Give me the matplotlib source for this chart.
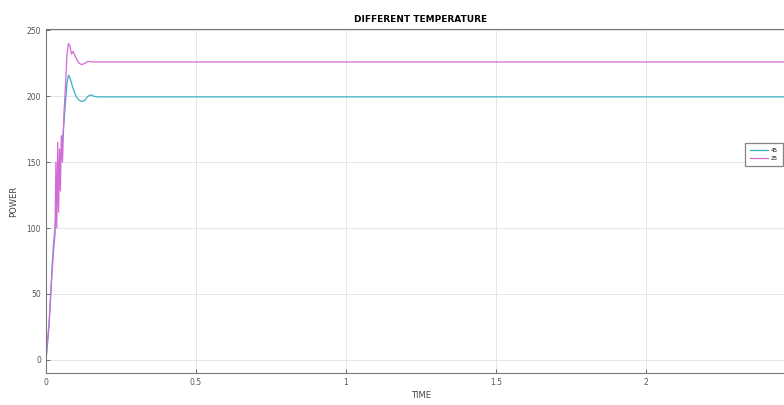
import matplotlib.pyplot as plt
import numpy as np

# power response at two temperatures
t_45 = [0, 0.005, 0.01, 0.015, 0.02, 0.025, 0.03, 0.035, 0.04, 0.045, 0.05,
        0.055, 0.06, 0.065, 0.07, 0.075, 0.08, 0.085, 0.09, 0.1, 0.11, 0.12,
        0.13, 0.14, 0.15, 0.16, 0.17, 0.18, 2.5]
p_45 = [0, 12, 25, 45, 70, 88, 100, 115, 128, 142, 155,
        167, 180, 196, 210, 216, 214, 210, 206, 200, 197, 196,
        197, 200, 201, 200, 199.5, 199.5, 199.5]

t_25 = [0, 0.005, 0.01, 0.015, 0.02, 0.025, 0.03, 0.033, 0.036, 0.039, 0.042,
        0.045, 0.048, 0.051, 0.055, 0.06, 0.065, 0.07, 0.075, 0.08, 0.085,
        0.09, 0.1, 0.11, 0.12, 0.13, 0.14, 0.15, 2.5]
p_25 = [0, 14, 28, 48, 65, 82, 95, 150, 100, 165, 112,
        160, 128, 170, 150, 188, 208, 232, 240, 238, 232,
        234, 229, 225, 224, 225, 226.5, 226, 226]

labels = ['45', '25']
xticks = [0, 0.5, 1, 1.5, 2]
yticks = [0, 50, 100, 150, 200, 250]

fig = plt.figure(figsize=(7.84, 4.05), dpi=100)
ax = fig.add_axes([46 / 784, 32 / 405, 750 / 784, 344 / 405])

ax.plot(t_45, p_45, color='#3fb0c4', linewidth=0.9, label=labels[0])
ax.plot(t_25, p_25, color='#d36ad6', linewidth=0.9, label=labels[1])

ax.set_xlim(0, 2.5)
ax.set_ylim(-10, 251)
ax.set_xticks(xticks)
ax.set_xticklabels(['0', '0.5', '1', '1.5', '2'])
ax.set_yticks(yticks)
ax.tick_params(direction='in', labelsize=5.5, colors='#555555', length=3, width=0.6)
ax.grid(True, color='#e6e6e6', linewidth=0.7)
for s in ax.spines.values():
    s.set_color('#777777')
    s.set_linewidth(0.8)

ax.set_title('DIFFERENT TEMPERATURE', fontsize=6.5, fontweight='bold', pad=5)
ax.set_xlabel('TIME', fontsize=6, color='#444444', labelpad=3)
ax.set_ylabel('POWER', fontsize=6, color='#444444', labelpad=6)

leg = ax.legend(loc='upper left', bbox_to_anchor=((745 - 46) / 750, (373 - 143) / 344),
                fontsize=4, frameon=True, fancybox=False, handlelength=3.2,
                borderpad=0.9, labelspacing=0.5, handletextpad=0.6,
                borderaxespad=0)
leg.get_frame().set_edgecolor('#666666')
leg.get_frame().set_linewidth(0.9)

fig.savefig('out.png', dpi=100)
